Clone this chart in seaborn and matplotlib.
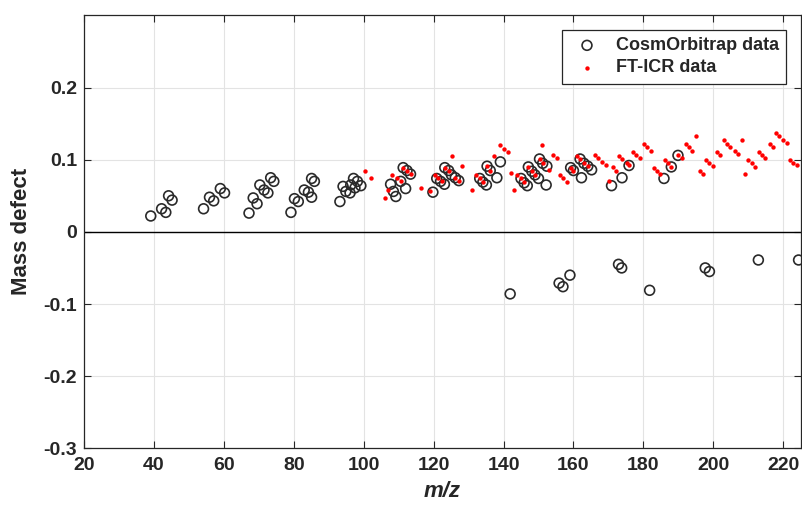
import matplotlib
matplotlib.use("Agg")
import matplotlib.pyplot as plt
import seaborn as sns
import pandas as pd

# CosmOrbitrap data (m/z, mass defect)
orbi_mz = [39.1, 42.2, 43.4, 44.2, 45.2, 54.2, 55.9, 57.1, 59.0, 60.2,
           67.2, 68.4, 69.5, 70.3, 71.5, 72.6, 73.4, 74.3,
           79.2, 80.2, 81.3, 83.0, 84.2, 85.1, 85.1, 85.9,
           93.2, 94.1, 94.9, 96.1, 96.3, 97.1, 97.5, 98.2, 99.2,
           107.7, 108.5, 109.2, 110.6, 111.3, 112.4, 113.4, 112.0,
           119.8, 120.9, 122.0, 123.1, 123.2, 124.3, 125.1, 126.2, 127.2,
           133.2, 134.1, 135.1, 135.3, 136.2, 138.1, 139.1,
           145.0, 145.9, 146.8, 147.1, 148.1, 149.0, 150.0, 150.3, 151.2, 152.2, 152.4,
           159.2, 160.0, 161.9, 162.3, 163.0, 164.1, 165.2,
           170.9, 173.9, 175.9, 185.9, 188.0, 189.9,
           141.9, 155.9, 157.0, 159.0, 172.9, 173.8, 181.8, 197.7, 198.9, 212.9, 224.4]
orbi_md = [0.022, 0.032, 0.027, 0.050, 0.044, 0.032, 0.048, 0.043, 0.060, 0.054,
           0.026, 0.047, 0.039, 0.065, 0.058, 0.054, 0.075, 0.070,
           0.027, 0.046, 0.042, 0.058, 0.055, 0.048, 0.074, 0.070,
           0.042, 0.063, 0.056, 0.054, 0.065, 0.074, 0.061, 0.070, 0.064,
           0.066, 0.056, 0.049, 0.070, 0.089, 0.085, 0.080, 0.060,
           0.055, 0.074, 0.070, 0.066, 0.089, 0.085, 0.079, 0.075, 0.071,
           0.074, 0.069, 0.065, 0.091, 0.085, 0.075, 0.097,
           0.074, 0.068, 0.064, 0.090, 0.084, 0.079, 0.074, 0.101, 0.095, 0.065, 0.091,
           0.089, 0.085, 0.101, 0.075, 0.095, 0.091, 0.086,
           0.064, 0.075, 0.092, 0.074, 0.090, 0.106,
           -0.086, -0.071, -0.076, -0.060, -0.045, -0.050, -0.081, -0.050, -0.055, -0.039, -0.039]

# FT-ICR data (m/z, mass defect)
icr_mz = [100.3, 102.2, 106.1, 107.1, 108.2, 109.6, 110.6, 111.3, 112.4, 113.4,
          116.3, 119.1, 120.3, 121.3, 122.3, 123.2, 124.3, 125.4, 126.2, 127.2, 128.1,
          131.0, 132.2, 133.2, 134.1, 135.3, 136.2, 137.2, 139.1, 140.2, 141.3,
          142.1, 143.0, 144.0, 145.0, 146.0, 147.1, 148.1, 149.0, 150.3, 151.1, 151.2,
          153.1, 154.1, 155.2, 156.2, 157.1, 158.1, 159.2, 160.0, 161.1, 162.0, 163.0, 164.1,
          166.1, 167.1, 168.2, 169.2, 170.1, 171.2, 172.1, 173.1, 174.0, 175.2, 175.9,
          177.0, 178.0, 178.9, 180.1, 181.0, 182.1, 183.0, 184.0, 184.9,
          186.1, 187.0, 188.0, 189.9, 191.0, 192.1, 193.0, 194.0, 195.1,
          196.1, 197.0, 198.0, 198.9, 200.0, 201.0, 202.0, 203.0, 204.0, 204.9,
          206.1, 207.0, 208.1, 209.0, 210.0, 211.0, 212.0, 213.0, 214.0, 214.9,
          216.1, 217.0, 217.9, 218.9, 220.0, 221.0, 221.9, 222.8, 223.9]
icr_md = [0.085, 0.075, 0.047, 0.058, 0.079, 0.074, 0.070, 0.089, 0.085, 0.080,
          0.061, 0.057, 0.079, 0.075, 0.070, 0.089, 0.085, 0.105, 0.075, 0.071, 0.091,
          0.058, 0.079, 0.074, 0.069, 0.091, 0.085, 0.105, 0.121, 0.115, 0.111,
          0.081, 0.058, 0.079, 0.074, 0.069, 0.090, 0.084, 0.079, 0.101, 0.121, 0.095,
          0.086, 0.107, 0.103, 0.079, 0.074, 0.069, 0.089, 0.085, 0.105, 0.101, 0.095, 0.091,
          0.107, 0.103, 0.097, 0.093, 0.070, 0.090, 0.085, 0.105, 0.101, 0.096, 0.092,
          0.111, 0.106, 0.102, 0.122, 0.118, 0.112, 0.089, 0.085, 0.080,
          0.100, 0.096, 0.090, 0.106, 0.102, 0.122, 0.118, 0.112, 0.133,
          0.085, 0.080, 0.100, 0.096, 0.091, 0.111, 0.106, 0.127, 0.122, 0.118,
          0.112, 0.108, 0.128, 0.080, 0.100, 0.096, 0.090, 0.111, 0.106, 0.102,
          0.122, 0.118, 0.137, 0.133, 0.128, 0.123, 0.100, 0.096, 0.092]

x_ticks = [20, 40, 60, 80, 100, 120, 140, 160, 180, 200, 220]
y_ticks = [-0.3, -0.2, -0.1, 0, 0.1, 0.2]
y_tick_labels = ["-0.3", "-0.2", "-0.1", "0", "0.1", "0.2"]

sns.set_style("ticks")
plt.rcParams['font.family'] = ['Liberation Sans', 'DejaVu Sans']
plt.rcParams['font.weight'] = 'bold'

orbi = pd.DataFrame({"mz": orbi_mz, "md": orbi_md})
icr = pd.DataFrame({"mz": icr_mz, "md": icr_md})

fig = plt.figure(figsize=(8.03, 5.12), dpi=100)
ax = fig.add_axes([0.1046, 0.1244, 0.8925, 0.8455])

ax.axhline(0, color='black', lw=1.0, zorder=1)

sns.scatterplot(data=orbi, x="mz", y="md", ax=ax, marker='o', s=50,
                fc='none', ec='#2a2a2a', linewidth=1.2, label='CosmOrbitrap data', zorder=3)
sns.scatterplot(data=icr, x="mz", y="md", ax=ax, marker='o', s=10,
                color='#ff0000', linewidth=0, label='FT-ICR data', zorder=4)

ax.set_xlim(20, 225)
ax.set_ylim(-0.3, 0.3)
ax.set_xticks(x_ticks)
ax.set_yticks(y_ticks)
ax.set_yticklabels(y_tick_labels)
ax.grid(True, color='#e3e3e3', lw=0.8)
ax.set_axisbelow(True)

ax.tick_params(axis='both', direction='in', top=True, right=True, length=5,
               width=0.8, color='#262626', labelsize=14, labelcolor='#262626')
ax.tick_params(axis='x', pad=6)
ax.tick_params(axis='y', pad=5)
for lab in ax.get_xticklabels() + ax.get_yticklabels():
    lab.set_fontweight('bold')
for sp in ax.spines.values():
    sp.set_color('#262626')
    sp.set_linewidth(0.9)

ax.set_xlabel("m/z", fontsize=16, fontweight='bold', fontstyle='italic', color='#262626', labelpad=5)
ax.set_ylabel("Mass defect", fontsize=16, fontweight='bold', color='#262626', labelpad=8)

leg = ax.legend(loc='upper right', frameon=True, fancybox=False, framealpha=1,
                edgecolor='#262626', prop={'weight': 'bold', 'size': 13},
                borderaxespad=0.8, handletextpad=0.6, borderpad=0.4, labelspacing=0.3)
leg.get_frame().set_linewidth(0.9)

fig.savefig("out.png", dpi=100)
